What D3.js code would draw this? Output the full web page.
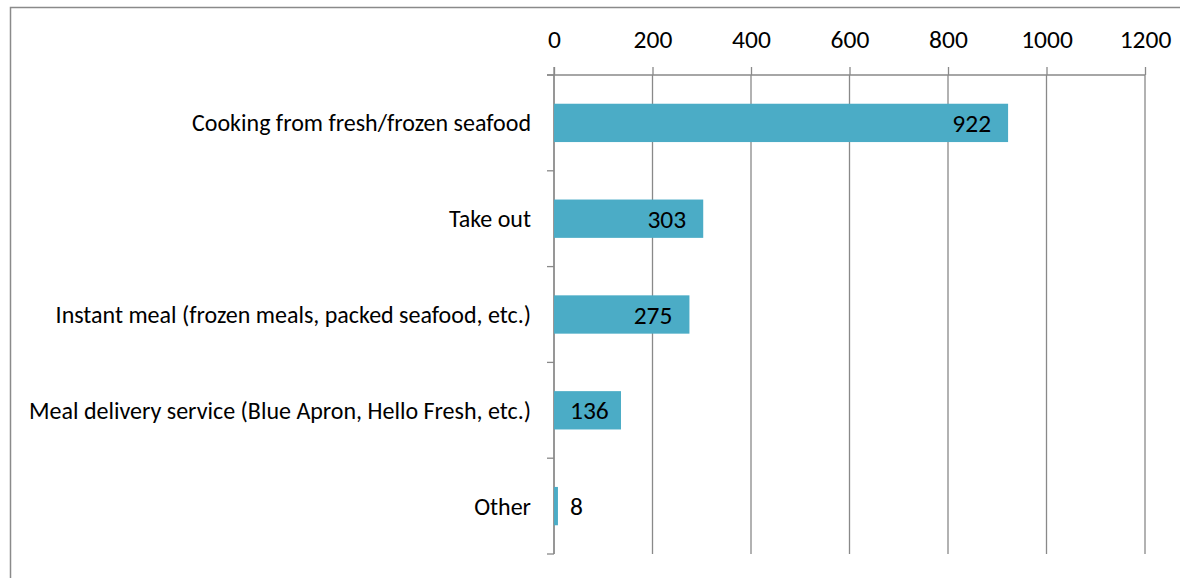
<!DOCTYPE html>
<html>
<head>
<meta charset="utf-8">
<script src="https://cdn.jsdelivr.net/npm/d3@7"></script>
<style>
  html, body { margin: 0; padding: 0; background: #fff; }
  svg { display: block; }
  text { font-family: Carlito, Calibri, "Liberation Sans", Arial, sans-serif; fill: #000; }
</style>
</head>
<body>
<svg id="chart" width="1180" height="578"></svg>
<script>
// Preferred way of eating seafood at home
const categories = [
  "Cooking from fresh/frozen seafood",
  "Take out",
  "Instant meal (frozen meals, packed seafood, etc.)",
  "Meal delivery service (Blue Apron, Hello Fresh, etc.)",
  "Other"
];
const counts = [922, 303, 275, 136, 8];
const tickValues = [0, 200, 400, 600, 800, 1000, 1200];

const svg = d3.select("#chart");
const gridColor = "#898989";
const barColor = "#4BACC6";

// Outer chart frame (runs past the right and bottom edges of the view)
svg.append("rect")
  .attr("x", 10.5).attr("y", 7.5)
  .attr("width", 1300).attr("height", 700)
  .attr("fill", "none")
  .attr("stroke", "#8a8a8a")
  .attr("stroke-width", 1.5);

const plot = { left: 554, right: 1145, top: 75, bottom: 554 };

const x = d3.scaleLinear().domain([0, 1200]).range([plot.left, plot.right]);
const y = d3.scaleBand()
  .domain(categories)
  .range([plot.top, plot.bottom])
  .paddingInner(0.6)
  .paddingOuter(0.3);

// Vertical gridlines
svg.append("g").selectAll("line")
  .data(tickValues)
  .join("line")
  .attr("x1", d => x(d)).attr("x2", d => x(d))
  .attr("y1", plot.top).attr("y2", plot.bottom)
  .attr("stroke", gridColor).attr("stroke-width", 1.3);

// Value axis across the top
const xAxis = svg.append("g")
  .attr("transform", `translate(0,${plot.top})`)
  .call(d3.axisTop(x)
    .tickValues(tickValues)
    .tickFormat(d3.format("d"))
    .tickSize(8).tickSizeOuter(0).tickPadding(19));
xAxis.select(".domain").remove();
xAxis.selectAll(".tick line").attr("stroke", gridColor).attr("stroke-width", 1.3);
xAxis.selectAll(".tick text")
  .style("font-size", "25.5px")
  .attr("fill", "#000");
xAxis.append("line")
  .attr("x1", plot.left - 7).attr("x2", plot.right)
  .attr("y1", 0).attr("y2", 0)
  .attr("stroke", gridColor).attr("stroke-width", 1.3);

// Category axis: line plus ticks at band boundaries
const yAxis = svg.append("g");
yAxis.append("line")
  .attr("x1", plot.left).attr("x2", plot.left)
  .attr("y1", plot.top - 8).attr("y2", plot.bottom)
  .attr("stroke", gridColor).attr("stroke-width", 1.3);
const step = y.step();
const boundaries = d3.range(categories.length + 1).map(i => plot.top + i * step);
yAxis.selectAll("line.tk")
  .data(boundaries)
  .join("line")
  .attr("class", "tk")
  .attr("x1", plot.left - 7).attr("x2", plot.left)
  .attr("y1", d => d).attr("y2", d => d)
  .attr("stroke", gridColor).attr("stroke-width", 1.3);

// Category labels
svg.append("g").selectAll("text")
  .data(categories)
  .join("text")
  .attr("x", plot.left - 23)
  .attr("y", d => y(d) + y.bandwidth() / 2)
  .attr("dy", "0.35em")
  .attr("text-anchor", "end")
  .style("font-size", "24px")
  .text(d => d);

// Bars
const rows = categories.map((c, i) => ({ cat: c, value: counts[i] }));
svg.append("g").selectAll("rect")
  .data(rows)
  .join("rect")
  .attr("x", x(0))
  .attr("y", d => y(d.cat))
  .attr("width", d => x(d.value) - x(0))
  .attr("height", y.bandwidth())
  .attr("fill", barColor);

// Value labels at the inside end of each bar, kept clear of the axis
svg.append("g").selectAll("text")
  .data(rows)
  .join("text")
  .attr("y", d => y(d.cat) + y.bandwidth() / 2)
  .attr("dy", "0.36em")
  .style("font-size", "25.5px")
  .text(d => d.value)
  .each(function(d) {
    const w = this.getComputedTextLength();
    const start = Math.max(x(0) + 16, x(d.value) - 17 - w);
    d3.select(this).attr("x", start);
  });
</script>
</body>
</html>
